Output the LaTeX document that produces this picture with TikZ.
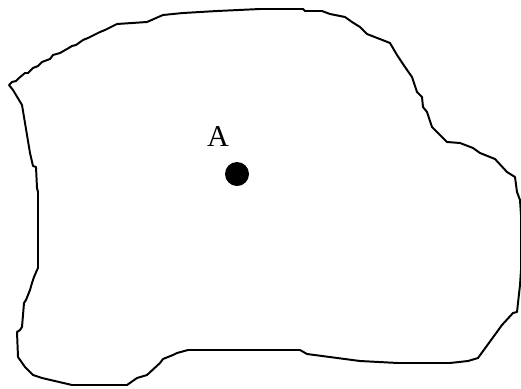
\documentclass[tikz,border=0pt]{standalone}
\usepackage{fontspec}
\setmainfont{Liberation Serif}
\usetikzlibrary{positioning}

\begin{document}
\begin{tikzpicture}[
x=0.025cm,y=-0.025cm,
outline/.style={draw=black,line width=1.4pt,line join=round},
dot/.style={circle,fill=black,inner sep=0pt,minimum size=0.6cm},
lbl/.style={font=\fontsize{21.5}{24}\selectfont,inner sep=0pt}
]
\useasboundingbox (0,0) rectangle (521,389);
% region boundary
\draw[outline] (9,85) -- (12,82) -- (16,81) -- (19,78) -- (25,73) -- (28,73) -- (33,68) -- (38,66)
  -- (42,62) -- (50,59) -- (53,55) -- (60,53) -- (67,49) -- (72,46) -- (76,45) -- (83,40)
  -- (88,38) -- (100,32) -- (105,30) -- (117,24) -- (147,22) -- (163,15) -- (183,13)
  -- (217,11) -- (260,9) -- (303,9) -- (305,11) -- (322,11) -- (330,14) -- (345,17)
  -- (352,22) -- (360,27) -- (367,34) -- (390,43) -- (397,55) -- (405,67) -- (412,77)
  -- (417,92) -- (422,97) -- (423,107) -- (427,112) -- (432,127) -- (447,142) -- (460,143)
  -- (473,148) -- (480,153) -- (495,159) -- (507,172) -- (515,177) -- (517,192)
  -- (520,200) -- (521,215) -- (521,270) -- (520,285) -- (517,312) -- (513,313)
  -- (502,325) -- (478,358) -- (468,361) -- (450,363) -- (398,363) -- (360,361)
  -- (307,354) -- (300,350) -- (188,350) -- (177,353) -- (173,355) -- (163,359)
  -- (160,363) -- (147,375) -- (137,378) -- (127,385) -- (72,385) -- (42,378)
  -- (33,375) -- (25,367) -- (18,357) -- (17,332) -- (20,330) -- (22,327) -- (23,315)
  -- (24,303) -- (26,300) -- (28,295) -- (30,290) -- (32,283) -- (34,277) -- (37,270)
  -- (38,268) -- (38,192) -- (37,188) -- (36,167) -- (33,166) -- (30,153) -- (22,105)
  -- (13,90) -- cycle;
% point A
\node[dot] (ptA) at (237,174) {};
\node[lbl] (labA) at (218,137) {A};
\end{tikzpicture}
\end{document}
